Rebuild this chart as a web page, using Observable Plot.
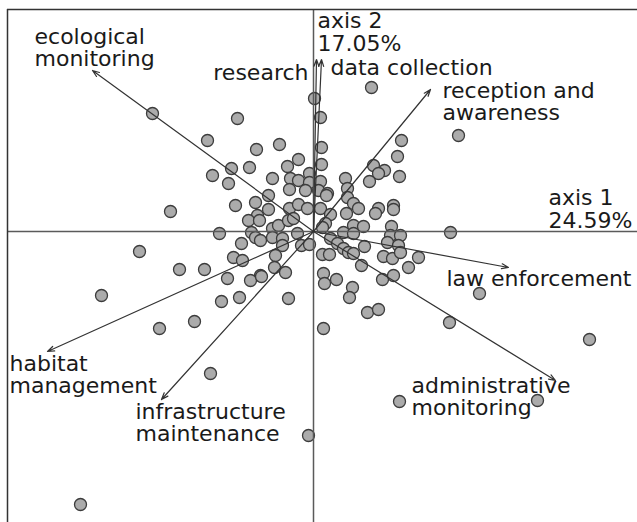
<!DOCTYPE html>
<html>
<head>
<meta charset="utf-8">
<script src="https://cdn.jsdelivr.net/npm/d3@7"></script>
<script src="https://cdn.jsdelivr.net/npm/@observablehq/plot@0.6"></script>
<style>
  html, body { margin: 0; padding: 0; background: #fff; }
  #chart svg { display: block; }
</style>
</head>
<body>
<div id="chart"></div>
<script>
// Site scores on the first two PCA axes
const axis1Scores = [
  -1.61,-0.76,-1.06,-0.57,-0.34,-0.82,-0.64,-1.01,-0.85,-1.43,
   0.01, 0.58, 1.45, 0.07, 0.88, 0.84, 0.08, 0.08, 0.60, 0.71,
   0.65, 0.86, 0.56,-0.41,-0.26,-0.15,-0.23,-0.15,-0.04,-0.04,
  -0.24,-0.08,-0.45, 0.07, 0.32, 0.34, 0.05, 0.14,-0.78,-0.58,
  -0.45,-0.56,-0.65,-0.54,-0.24,-0.15,-0.06,-0.94,-0.62,-0.41,
  -0.35,-0.25,-0.20,-0.58,-0.53,-0.41,-0.31,-0.16,-0.72,-0.31,
  -0.12,-0.04,-0.80,-0.71,-0.38,-0.39,-1.09,-0.53,-0.28, 0.13,
   0.07, 0.34, 0.40, 0.45, 0.33, 0.65, 0.62, 0.80, 0.80, 0.17,
   0.12, 0.09, 0.40, 0.50, 0.30, 0.40, 0.78, 0.77, 0.87, 0.74,
   0.85, 0.17, 0.24, 0.51, 0.09, 0.16, 0.30, 0.35, 0.40, 0.70,
   0.79, 0.87, 0.95, 1.05, 0.48, 0.10, 0.11, 0.23, 0.39, 0.36,
   0.54, 0.65, 0.10, 0.69, 0.80, 1.37, 1.36, 1.66, 2.76, 0.86,
   2.24,-0.05,-2.33,-1.74,-1.34,-2.12,-0.86,-0.63,-0.52,-0.92,
  -0.74,-0.25,-1.54,-1.19,-1.03
];
const axis2Scores = [
   1.18, 1.13, 0.91, 0.82, 0.87, 0.63, 0.64, 0.56, 0.48, 0.20,
   1.33, 1.44, 0.96, 1.14, 0.91, 0.75, 0.84, 0.67, 0.66, 0.61,
   0.58, 0.55, 0.50, 0.53, 0.65, 0.72, 0.53, 0.51, 0.58, 0.49,
   0.42, 0.41, 0.36, 0.50, 0.53, 0.43, 0.41, 0.38, 0.26, 0.29,
   0.22, 0.16, 0.11, 0.11, 0.23, 0.27, 0.23,-0.02,-0.01, 0.03,
   0.06, 0.11, 0.13,-0.06,-0.09,-0.06,-0.07,-0.02,-0.12,-0.14,
  -0.14,-0.13,-0.26,-0.29,-0.24,-0.36,-0.38,-0.44,-0.41, 0.36,
   0.23, 0.34, 0.28, 0.23, 0.18, 0.23, 0.18, 0.26, 0.22, 0.17,
   0.08, 0.04, 0.06, 0.05,-0.01,-0.02, 0.05,-0.04,-0.04,-0.11,
  -0.14,-0.07,-0.12,-0.15,-0.23,-0.23,-0.17,-0.21,-0.22,-0.25,
  -0.27,-0.21,-0.36,-0.26,-0.34,-0.42,-0.52,-0.48,-0.56,-0.66,
  -0.81,-0.78,-0.97,-0.48,-0.44,-0.01,-0.91,-0.62,-1.08,-1.70,
  -1.69,-2.04,-2.73,-0.20,-0.38,-0.64,-0.47,-0.49,-0.45,-0.70,
  -0.66,-0.67,-0.97,-0.90,-1.42
];

// Variable loadings (arrows)
const variables = ["ecological\nmonitoring", "research", "data collection", "reception and\nawareness",
                   "law enforcement", "administrative\nmonitoring", "habitat\nmanagement", "infrastructure\nmaintenance"];
const loading1 = [-2.21, 0.03, 0.08, 1.17, 1.95, 2.42, -2.66, -1.52];
const loading2 = [ 1.61, 1.72, 1.72, 1.42, -0.36, -1.49, -1.20, -1.68];
// label anchor positions (in axis units) and anchors
const labelX = [-2.79, -0.05, 0.17, 1.29, 1.33, 0.98, -3.04, -1.78];
const labelY = [ 1.835, 1.59, 1.64, 1.30, -0.47, -1.655, -1.43, -1.915];
const labelAnchor = ["start", "end", "start", "start", "start", "start", "start", "start"];

// Axis titles
const axisTitles = ["axis 1\n24.59%", "axis 2\n17.05%"];
const axisTitleX = [2.35, 0.04];
const axisTitleY = [0.22, 1.995];

// Plot window limits (axis units)
const xLimits = [-3.13, 3.24];
const yLimits = [-2.91, 2.31];
const frameLeft = -3.06;
const frameTop = 2.22;

const points = axis1Scores.map((v, i) => ({x: v, y: axis2Scores[i]}));
const loads = variables.map((name, i) => ({name, x: loading1[i], y: loading2[i],
  lx: labelX[i], ly: labelY[i], anchor: labelAnchor[i]}));
const titles = axisTitles.map((t, i) => ({t, x: axisTitleX[i], y: axisTitleY[i]}));

const font = "DejaVu Sans";
const fs = 22;

const chart = Plot.plot({
  width: 637,
  height: 522,
  margin: 0,
  x: {domain: xLimits, axis: null},
  y: {domain: yLimits, axis: null},
  style: {fontFamily: font, background: "#fff"},
  marks: [
    Plot.text(loads.filter(d => d.anchor === "start"), {x: "lx", y: "ly", text: "name", textAnchor: "start",
      fontSize: fs, lineHeight: 1.0, fill: "#1a1a1a", fontFamily: font}),
    Plot.text(loads.filter(d => d.anchor === "end"), {x: "lx", y: "ly", text: "name", textAnchor: "end",
      fontSize: fs, lineHeight: 1.0, fill: "#1a1a1a", fontFamily: font}),
    Plot.text(titles, {x: "x", y: "y", text: "t", textAnchor: "start",
      fontSize: fs, lineHeight: 1.03, fill: "#1a1a1a", fontFamily: font}),
    Plot.dot(points, {x: "x", y: "y", r: 6, fill: "#ababab", stroke: "#3c3c3c", strokeWidth: 1.3}),
    Plot.ruleY([0], {x1: frameLeft, x2: xLimits[1], stroke: "#5a5a5a", strokeWidth: 1.5}),
    Plot.ruleX([0], {y1: yLimits[0], y2: frameTop, stroke: "#5a5a5a", strokeWidth: 1.5}),
    Plot.ruleX([frameLeft], {y1: yLimits[0], y2: frameTop, stroke: "#333", strokeWidth: 1.5}),
    Plot.ruleY([frameTop], {x1: frameLeft, x2: xLimits[1], stroke: "#333", strokeWidth: 1.5}),
    Plot.arrow(loads, {x1: d => 0, y1: d => 0, x2: "x", y2: "y", stroke: "#333",
      strokeWidth: 1.2, headLength: 9, headAngle: 40})
  ]
});
document.getElementById("chart").append(chart);
</script>
</body>
</html>
